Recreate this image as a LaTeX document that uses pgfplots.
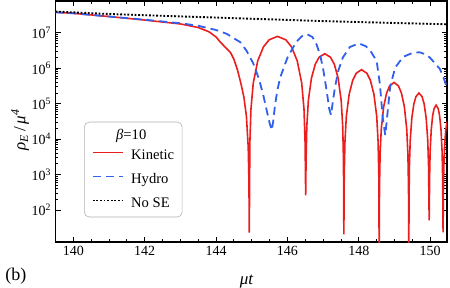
\documentclass[border=0pt]{standalone}
\usepackage{fontspec}
\setmainfont{Liberation Serif}
\usepackage{pgfplots}
\pgfplotsset{compat=1.18}
\definecolor{kred}{RGB}{235,30,30}
\definecolor{hblue}{RGB}{50,95,235}
\begin{document}
\begin{tikzpicture}
\path[use as bounding box] (-55.5pt,-45pt) rectangle (394.5pt,242pt);
\begin{axis}[
  scale only axis, width=391.5pt, height=241pt,
  at={(0pt,0pt)}, anchor=south west,
  xmin=139.5, xmax=150.47,
  ymode=log, ymin=12.5, ymax=7.9e7,
  xtick={140,142,144,146,148,150}, minor x tick num=3,
  ytick={1e2,1e3,1e4,1e5,1e6,1e7},
  yticklabels={10\textsuperscript{2},10\textsuperscript{3},10\textsuperscript{4},10\textsuperscript{5},10\textsuperscript{6},10\textsuperscript{7}},
  tick align=inside, major tick length=5pt, minor tick length=3pt,
  axis line style={line width=1.2pt},
  every tick/.style={black, line width=0.9pt},
  /pgf/number format/assume math mode=true,
  /pgf/number format/1000 sep={},
  ticklabel style={font=\fontsize{14}{16}\selectfont},
  yticklabel style={xshift=-1pt},
  xticklabel style={yshift=-1pt},
  legend style={at={(rel axis cs:0.0728,0.499)}, anchor=north west,
    draw=gray!60, line width=0.6pt, rounded corners=5pt,
    font=\fontsize{14.6}{16}\selectfont,
    nodes={inner sep=0pt, text height=11pt, text depth=4pt},
    row sep=9pt, column sep=8pt, inner xsep=8pt, inner ysep=6pt},
  legend cell align=left,
  legend image code/.code={\draw[#1, line width=0.9pt] (0pt,3.5pt) -- (30pt,3.5pt);},
  clip mode=individual,
]
\addlegendimage{empty legend}
\addlegendentry[text depth=0pt]{\hspace*{-15pt}\textit{β}=10}

% Kinetic
\addplot[kred, line width=1.6pt] coordinates {
(139.5,3.80e7) (140,3.55e7) (141,2.88e7) (142,2.29e7) (143,1.78e7) (143.5,1.41e7)
(143.8,1.07e7) (144.0,7.59e6) (144.1,5.75e6) (144.25,3.98e6) (144.4,2.82e6)
(144.5,1.78e6) (144.6,8.91e5) (144.7,3.55e5) (144.78,1.51e5) (144.85,4.37e4)
(144.9,6.03e3) (144.92,676) (144.93,22.9)
(144.946,7.76e3) (144.977,7.08e4) (145.041,3.80e5) (145.167,1.62e6) (145.325,3.98e6)
(145.483,6.31e6) (145.72,7.94e6) (145.957,6.31e6) (146.115,3.98e6) (146.273,1.62e6)
(146.399,3.80e5) (146.463,7.08e4) (146.494,7.76e3) (146.51,257)
(146.521,2.51e3) (146.542,2.29e4) (146.585,1.23e5) (146.671,5.25e5) (146.778,1.29e6)
(146.885,2.04e6) (147.045,2.57e6) (147.206,2.04e6) (147.313,1.29e6) (147.420,5.25e5)
(147.505,1.23e5) (147.548,2.29e4) (147.569,2.51e3) (147.58,20.4)
(147.590,891) (147.610,8.13e3) (147.649,4.37e4) (147.729,1.86e5) (147.828,4.57e5)
(147.927,7.24e5) (148.075,9.12e5) (148.224,7.24e5) (148.323,4.57e5) (148.422,1.86e5)
(148.501,4.37e4) (148.540,8.13e3) (148.560,891) (148.57,3.16)
(148.578,389) (148.595,3.55e3) (148.628,1.91e4) (148.695,8.13e4) (148.778,2.00e5)
(148.861,3.16e5) (148.985,3.98e5) (149.110,3.16e5) (149.193,2.00e5) (149.276,8.13e4)
(149.342,1.91e4) (149.375,3.55e3) (149.392,389) (149.40,3.16)
(149.406,195) (149.417,1.78e3) (149.440,9.55e3) (149.486,4.07e4) (149.543,1.00e5)
(149.600,1.58e5) (149.685,2.00e5) (149.771,1.58e5) (149.828,1.00e5) (149.885,4.07e4)
(149.930,9.55e3) (149.953,1.78e3) (149.964,195) (149.97,51.3)
(149.974,89.1) (149.982,813) (149.997,4.37e3) (150.029,1.86e4) (150.068,4.57e4)
(150.107,7.24e4) (150.165,9.12e4) (150.224,7.24e4) (150.263,4.57e4) (150.302,1.86e4)
(150.333,4.37e3) (150.348,813) (150.356,89.1) (150.36,23.4)
(150.369,316) (150.381,1.70e3) (150.405,7.24e3) (150.435,1.78e4) (150.465,2.82e4)
(150.51,3.55e4)
};
\addlegendentry{Kinetic}

% Hydro
\addplot[hblue, line width=1.8pt, dash pattern=on 8pt off 5pt] coordinates {
(139.5,3.80e7) (140,3.55e7) (141,2.88e7) (142,2.34e7) (143,1.86e7) (143.5,1.58e7)
(144.0,1.20e7) (144.3,9.33e6) (144.67,5.50e6) (144.85,3.16e6) (145.04,1.38e6)
(145.2,5.01e5) (145.32,1.78e5) (145.42,6.31e4) (145.5,2.82e4) (145.56,1.78e4)
(145.6,3.16e4) (145.65,8.91e4) (145.72,2.51e5) (145.8,5.62e5) (146.0,2.00e6)
(146.25,5.62e6) (146.4,7.94e6) (146.55,9.12e6) (146.7,7.59e6) (146.82,4.57e6)
(146.92,2.24e6) (147.0,9.55e5) (147.1,2.24e5) (147.17,7.08e4) (147.22,4.79e4)
(147.27,1.12e5) (147.33,2.82e5) (147.42,8.32e5) (147.55,2.00e6) (147.75,3.98e6)
(148.0,5.01e6) (148.2,4.17e6) (148.35,2.82e6) (148.5,1.58e6) (148.59,3.55e5)
(148.67,3.98e4) (148.74,1.29e4) (148.8,5.01e4) (148.88,3.16e5) (149.02,1.05e6)
(149.24,2.09e6) (149.52,2.75e6) (149.7,2.82e6) (149.85,2.51e6) (149.99,2.00e6)
(150.15,1.32e6) (150.27,9.55e5) (150.38,5.25e5) (150.47,2.82e5)
};
\addlegendentry{Hydro}

% No SE
\addplot[black, line width=1.9pt, dash pattern=on 1.8pt off 1.8pt] coordinates {
(139.5,3.98e7) (141,3.39e7) (142.5,3.02e7) (144,2.69e7) (145.5,2.40e7)
(147,2.14e7) (148.5,1.95e7) (150.47,1.74e7)
};
\addlegendentry{No SE}

\node[font=\fontsize{17}{19}\selectfont, rotate=90] at (rel axis cs:-0.09,0.465)
  {\textit{ρ}\textsubscript{\textit{E}}\,/\,\textit{μ}\textsuperscript{\textit{4}}};
\node[font=\fontsize{17}{19}\selectfont] at (rel axis cs:0.488,-0.162) {\textit{μt}};
\node[font=\fontsize{18}{20}\selectfont] at (rel axis cs:-0.101,-0.142) {(b)};
\end{axis}
\end{tikzpicture}
\end{document}
